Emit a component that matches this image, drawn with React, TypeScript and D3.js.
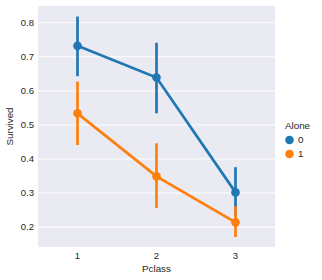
import React from "react";
import * as d3 from "d3";

const categories = ["1", "2", "3"];
const yTicks = [0.2, 0.3, 0.4, 0.5, 0.6, 0.7, 0.8];
const seriesNames = ["0", "1"];
const means0 = [0.732, 0.639, 0.302];
const lo0 = [0.643, 0.534, 0.235];
const hi0 = [0.818, 0.741, 0.376];
const means1 = [0.534, 0.349, 0.214];
const lo1 = [0.441, 0.256, 0.171];
const hi1 = [0.627, 0.446, 0.261];
const colors = ["#1f77b4", "#ff7f0e"];

const W = 322, H = 280;
const left = 38, right = 275, top = 6, bottom = 247;
const FONT = "'Liberation Sans', Arial, sans-serif";
const TXT = "#262626";

export default function App() {
  const x = d3.scalePoint<string>().domain(categories).range([left, right]).padding(0.5);
  const y = d3.scaleLinear().domain([0.1417, 0.849]).range([bottom, top]);
  const series = [
    { name: seriesNames[0], m: means0, lo: lo0, hi: hi0, c: colors[0] },
    { name: seriesNames[1], m: means1, lo: lo1, hi: hi1, c: colors[1] },
  ];
  const line = d3.line<number>().x((_, i) => x(categories[i])!).y((d) => y(d));
  return (
    <svg width={W} height={H} style={{ position: "absolute", left: 0, top: 0 }} fontFamily={FONT}>
      <rect x={0} y={0} width={W} height={H} fill="#fff" />
      <rect x={left} y={top} width={right - left} height={bottom - top} fill="#eaeaf2" />
      {yTicks.map((t) => (
        <g key={t}>
          <line x1={left} x2={right} y1={y(t)} y2={y(t)} stroke="#fff" strokeWidth={1} />
          <text x={34} y={y(t)} dy="0.35em" textAnchor="end" fontSize={9.5} fill={TXT}>
            {t.toFixed(1)}
          </text>
        </g>
      ))}
      {categories.map((c) => (
        <text key={c} x={x(c)} y={259} textAnchor="middle" fontSize={9.5} fill={TXT}>
          {c}
        </text>
      ))}
      {series.map((s) => (
        <g key={s.name}>
          {s.m.map((_, i) => (
            <line key={i} x1={x(categories[i])} x2={x(categories[i])} y1={y(s.lo[i])} y2={y(s.hi[i])}
              stroke={s.c} strokeWidth={2.7} />
          ))}
          <path d={line(s.m)!} fill="none" stroke={s.c} strokeWidth={2.7} />
          {s.m.map((v, i) => (
            <circle key={i} cx={x(categories[i])} cy={y(v)} r={4.3} fill={s.c} />
          ))}
        </g>
      ))}
      <text x={156.5} y={272} textAnchor="middle" fontSize={9.8} fill={TXT}>Pclass</text>
      <text transform={`translate(13,${(top + bottom) / 2}) rotate(-90)`} textAnchor="middle" fontSize={9.8} fill={TXT}>
        Survived
      </text>
      <text x={285} y={129} fontSize={9.8} fill={TXT}>Alone</text>
      {series.map((s, i) => (
        <g key={s.name}>
          <circle cx={289.5} cy={140 + i * 14} r={4.3} fill={s.c} />
          <text x={298} y={140 + i * 14} dy="0.35em" fontSize={9.8} fill={TXT}>{s.name}</text>
        </g>
      ))}
    </svg>
  );
}
